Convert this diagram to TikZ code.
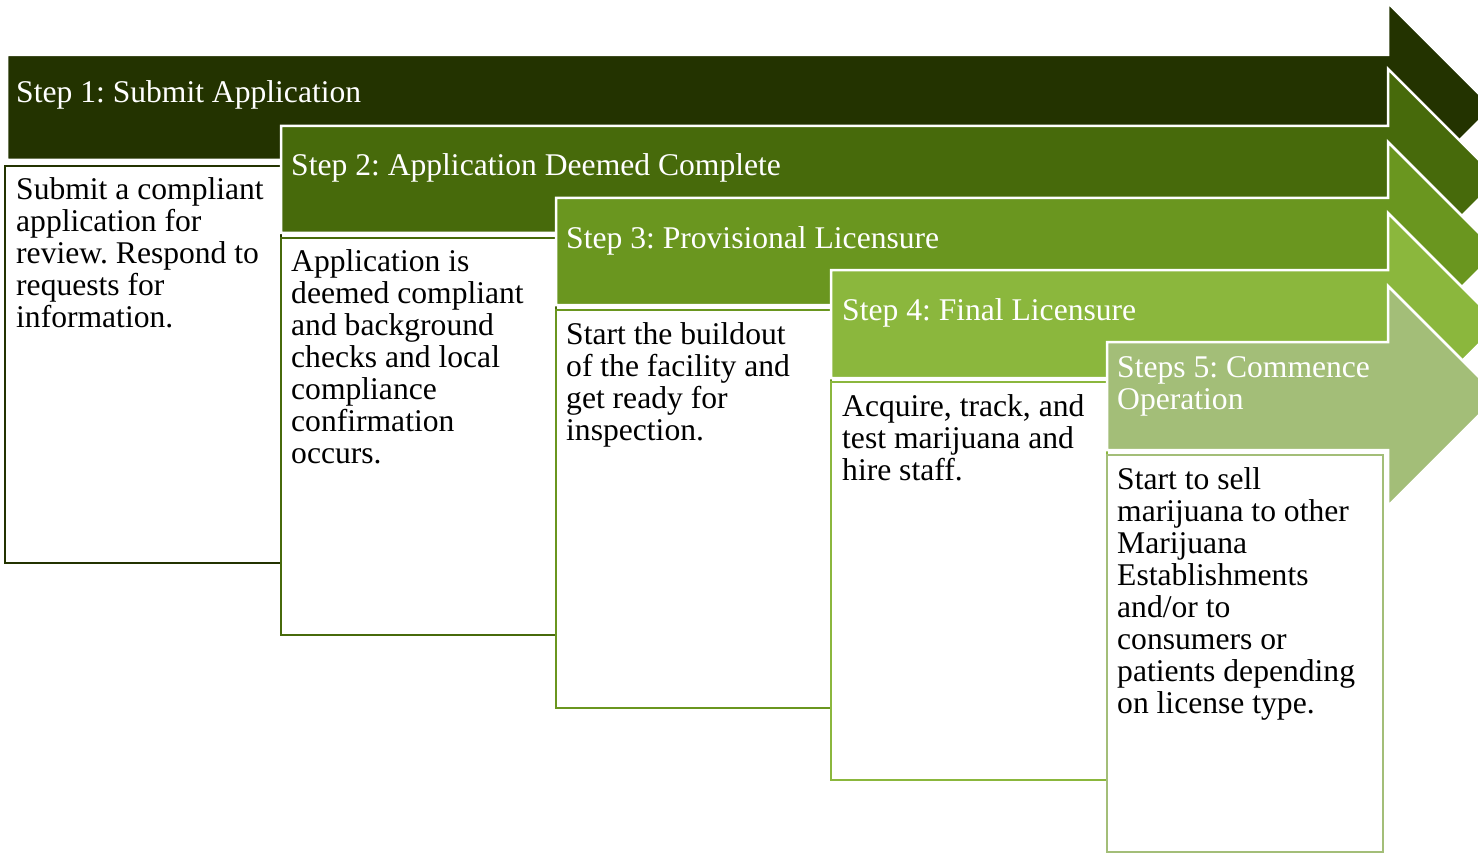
\documentclass[tikz,border=0pt]{standalone}
\usepackage{fontspec}
\setmainfont{Liberation Serif}
\frenchspacing

\definecolor{stepA}{RGB}{35,51,0}
\definecolor{stepB}{RGB}{71,106,11}
\definecolor{stepC}{RGB}{106,150,31}
\definecolor{stepD}{RGB}{139,183,61}
\definecolor{stepE}{RGB}{163,190,120}

% text block whose anchor is the baseline of its first line
\newcommand{\textlines}[1]{\parbox[t]{1000pt}{\raggedright\fontsize{31.6}{32}\selectfont #1}}

% stage arrow: colour, left x, body top, body bottom, head top
\newcommand{\stagearrow}[5]{%
  \path[arrowshape=#1] (#2,#3) -- (1388,#3) -- (1388,#5)
    -- ({1388+(#3+#4)/2-#5},{(#3+#4)/2}) -- (1388,{#3+#4-#5})
    -- (1388,#4) -- (#2,#4) -- cycle;}

\begin{document}
\begin{tikzpicture}[x=1pt,y=-1pt]
\tikzset{
  arrowshape/.style={fill=#1, draw=white, line width=2.5pt, line join=miter},
  notebox/.style={fill=white, draw=#1, line width=2.6pt},
  headtext/.style={anchor=base west, inner sep=0pt, text=white},
  bodytext/.style={anchor=base west, inner sep=0pt, text=black},
}
\useasboundingbox (0,0) rectangle (1478,853);
\clip (0,0) rectangle (1478,853);

% Step 1
\stagearrow{stepA}{7}{55}{160}{3}
\node[headtext] (h1) at (16,103) {\textlines{Step 1: Submit Application}};
\path[notebox=stepA] (5,166) rectangle (281,563);
\node[bodytext] (b1) at (16,200) {\textlines{Submit a compliant\\ application for\\ review. Respond to\\ requests for\\ information.}};

% Step 2
\stagearrow{stepB}{281}{126}{233}{69}
\node[headtext] (h2) at (291,176) {\textlines{Step 2: Application Deemed Complete}};
\path[notebox=stepB] (281,238) rectangle (556,635);
\node[bodytext] (b2) at (291,272) {\textlines{Application is\\ deemed compliant\\ and background\\ checks and local\\ compliance\\ confirmation\\ occurs.}};

% Step 3
\stagearrow{stepC}{556}{198}{305}{142}
\node[headtext] (h3) at (566,248) {\textlines{Step 3: Provisional Licensure}};
\path[notebox=stepC] (556,310) rectangle (831,708);
\node[bodytext] (b3) at (566,344) {\textlines{Start the buildout\\ of the facility and\\ get ready for\\ inspection.}};

% Step 4
\stagearrow{stepD}{831}{270}{378}{213}
\node[headtext] (h4) at (842,320) {\textlines{Step 4: Final Licensure}};
\path[notebox=stepD] (831,382) rectangle (1107,780);
\node[bodytext] (b4) at (842,416) {\textlines{Acquire, track, and\\ test marijuana and\\ hire staff.}};

% Step 5
\stagearrow{stepE}{1107}{342}{450}{286}
\node[headtext] (h5) at (1117,377) {\textlines{Steps 5: Commence\\ Operation}};
\path[notebox=stepE] (1107,455) rectangle (1383,852);
\node[bodytext] (b5) at (1117,489) {\textlines{Start to sell\\ marijuana to other\\ Marijuana\\ Establishments\\ and/or to\\ consumers or\\ patients depending\\ on license type.}};
\end{tikzpicture}
\end{document}
